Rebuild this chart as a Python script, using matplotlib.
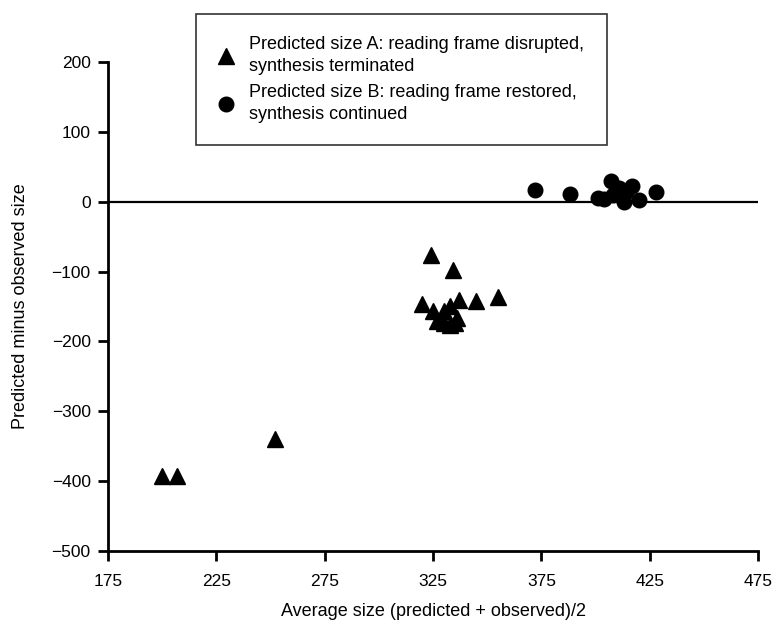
import matplotlib
matplotlib.use("Agg")
import matplotlib.pyplot as plt

plt.rcParams['font.family'] = ['Liberation Sans', 'DejaVu Sans']

# datos
a_x = [200, 207, 252, 324, 334, 355, 320, 325, 330, 333, 337, 345, 327, 330, 335, 336, 333]
a_y = [-393, -393, -339, -77, -98, -136, -146, -156, -156, -149, -141, -142, -171, -174, -174, -167, -177]
b_x = [372, 388, 401, 407, 417, 414, 408, 413, 420, 428, 411, 404]
b_y = [17, 11, 6, 30, 23, 14, 9, 0, 2, 14, 19, 4]

label_a = "Predicted size A: reading frame disrupted,\nsynthesis terminated"
label_b = "Predicted size B: reading frame restored,\nsynthesis continued"

xticks = [175, 225, 275, 325, 375, 425, 475]
yticks = [200, 100, 0, -100, -200, -300, -400, -500]

fig = plt.figure(figsize=(7.81, 6.26), dpi=100)
ax = fig.add_axes([0.1383, 0.1198, 0.8323, 0.7812])

ax.axhline(0, color='black', lw=1.6, zorder=1)
ax.plot(a_x, a_y, '^', color='black', ms=11, ls='none', label=label_a, zorder=3)
ax.plot(b_x, b_y, 'o', color='black', ms=10.5, ls='none', label=label_b, zorder=3)

ax.set_xlim(175, 475)
ax.set_ylim(-500, 200)
ax.set_xticks(xticks)
ax.set_yticks(yticks)
ax.set_yticklabels([str(t).replace('-', '\u2212') for t in yticks])

for s in ['top', 'right']:
    ax.spines[s].set_visible(False)
for s in ['left', 'bottom']:
    ax.spines[s].set_linewidth(2)
ax.tick_params(width=2, length=7.5, labelsize=12.5)
ax.tick_params(axis='x', pad=9)
ax.tick_params(axis='y', pad=5)

ax.set_xlabel('Average size (predicted + observed)/2', fontsize=13, labelpad=10)
ax.set_ylabel('Predicted minus observed size', fontsize=13, labelpad=16)

leg = fig.legend(loc='upper left', bbox_to_anchor=(0.251, 0.978), borderaxespad=0,
                 fontsize=13, frameon=True, fancybox=False, edgecolor='black',
                 handletextpad=0.9, borderpad=1.25, labelspacing=0.55, handlelength=0.8)
leg.get_frame().set_linewidth(1.2)
for t in leg.get_texts():
    t.set_linespacing(1.32)

fig.savefig('out.png', dpi=100)
